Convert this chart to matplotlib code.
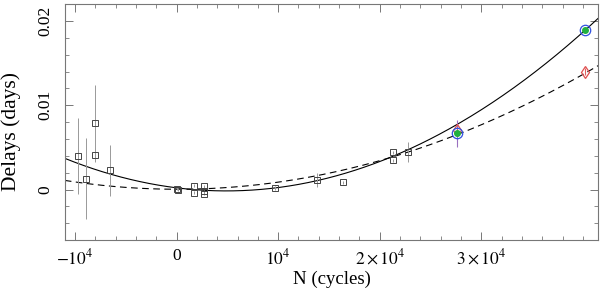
import numpy as np
import matplotlib
matplotlib.use("Agg")
import matplotlib.pyplot as plt
from matplotlib.ticker import MultipleLocator, FixedLocator, FixedFormatter

plt.rcParams['font.family'] = ['Liberation Serif', 'DejaVu Serif']
plt.rcParams['mathtext.fontset'] = 'stix'

# Old eclipse timings (O-C delays, days)
obs_N = [-9655, -8867, -8020, -8020, -6502, 0, 130, 1700, 1700, 2690, 2690, 2690,
         9685, 13852, 16414, 21280, 21280, 22818]
obs_delay = [0.00393, 0.00126, 0.00788, 0.00412, 0.00228, 0.0001, 0.0, 0.00047, -0.00039,
             0.00039, -0.0002, -0.00051, 0.0002, 0.0011, 0.00086, 0.00441, 0.00347, 0.00441]
obs_err = [0.0045, 0.0048, 0.0045, 0.0008, 0.003, 0.0002, 0.0002, 0.0002, 0.0002,
           0.0002, 0.0002, 0.0002, 0.0002, 0.0008, 0.0002, 0.0002, 0.0002, 0.0012]

# New timings
new_N = [27585, 40227]
new_delay_blue = [0.0067, 0.01898]
new_delay_green = [0.0067, 0.01898]
new_err = [0.0016, 0.0003]
red_N = [27585, 40160]
red_delay = [0.0071, 0.01398]
red_err = [0.0002, 0.0004]

# Quadratic ephemeris fits: c0 + c1*N + c2*N^2
solid_coef = [0.0002, -1.4985e-7, 1.529e-11]
dashed_coef = [0.00003, -1.3e-9, 8.547e-12]

xlim = (-11000, 41500)
ylim = (-0.006, 0.022)

fig = plt.figure(figsize=(6.0, 2.91), dpi=100)
ax = fig.add_axes([0.108, 0.175, 0.889, 0.811])

Ncurve = np.linspace(xlim[0], xlim[1], 400)
solid = np.polyval(solid_coef[::-1], Ncurve)
dashed = np.polyval(dashed_coef[::-1], Ncurve)
ax.plot(Ncurve, solid, color='black', lw=0.8)
ax.plot(Ncurve, dashed, color='black', lw=0.8, ls=(0, (6, 4)))

ax.errorbar(obs_N, obs_delay, yerr=obs_err, fmt='s', ms=4.6, mfc='none',
            mec='#444444', mew=0.7, ecolor='#999999', elinewidth=0.7, capsize=0)

# coloured new points
ax.errorbar(new_N, new_delay_green, yerr=new_err, fmt='none', ecolor='#9a70c0',
            elinewidth=0.8, capsize=0)
ax.errorbar(red_N, red_delay, yerr=red_err, fmt='none', ecolor='#e06060', elinewidth=0.8)
ax.plot(red_N, red_delay, 'd', ms=6.5, mfc='none', mec='#e05050', mew=0.9)
ax.plot(new_N, new_delay_blue, 'o', ms=7.5, mfc='none', mec='#3050e0', mew=0.9)
ax.plot(new_N, new_delay_green, 'o', ms=4, mfc='#20b040', mec='#20b040')

ax.set_xlim(*xlim)
ax.set_ylim(*ylim)

xt = [-10000, 0, 10000, 20000, 30000]
ax.xaxis.set_major_locator(FixedLocator(xt))
ax.xaxis.set_major_formatter(FixedFormatter([r'$-10^4$', '0', r'$10^4$', r'$2\times10^4$', r'$3\times10^4$']))
ax.xaxis.set_minor_locator(MultipleLocator(2000))
ax.yaxis.set_major_locator(FixedLocator([0, 0.01, 0.02]))
ax.yaxis.set_major_formatter(FixedFormatter(['0', '0.01', '0.02']))
ax.yaxis.set_minor_locator(MultipleLocator(0.002))

ax.tick_params(which='both', direction='in', top=True, right=True, color='#777777', labelsize=12.5)
ax.tick_params(which='major', length=6, width=0.7)
ax.tick_params(which='minor', length=3, width=0.6)
ax.tick_params(axis='x', pad=6)
ax.tick_params(axis='y', pad=8)
for lab in ax.get_yticklabels():
    lab.set_rotation(90)
    lab.set_va('center')
for sp in ax.spines.values():
    sp.set_color('#777777')
    sp.set_linewidth(0.8)

ax.set_xlabel('N (cycles)', fontsize=13.5, labelpad=2)
ax.set_ylabel('Delays (days)', fontsize=15.5, va='center')
ax.yaxis.set_label_coords(-0.10, 0.46)

fig.savefig('out.png', dpi=100)
